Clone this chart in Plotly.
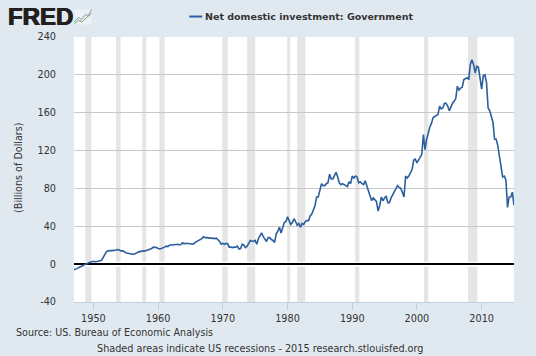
import plotly.graph_objects as go

START_YEAR = 1947
VALUES = [
    -6, -5.5, -4.5, -3.5,  -3, -2, -1, -0.5,  0.5, 1.5, 2, 3,  3, 2.5, 2.5, 3,
    3.5, 4, 7, 10,  13, 14, 14, 14,  14, 14.5, 15, 15.5,  15, 14, 14, 13.5,
    12, 11.5, 11, 11,  10.5, 10.5, 11, 12,  13, 13.5, 14, 14,  14, 14.5, 15, 15.5,
    16.5, 18, 18, 17.5,  16.5, 16, 16.5, 17,  18, 19, 18.5, 20,  20.5, 20.5, 20.5, 21,
    21, 20.5, 20.5, 22.5,  21.5, 22, 22, 22,  21.5, 21, 21.5, 23,  24, 24.5, 25.5, 27,
    29, 28, 28, 27.5,  27.5, 27.5, 27, 27,  27.5, 26, 24, 21,  22, 21, 22, 21.5,
    18, 18, 17.5, 18,  18, 19, 16, 16.5,  21, 20, 17.5, 19,  23, 25, 24.5, 24,
    25, 21, 27, 30,  33, 29, 26, 24,  28, 28, 26, 25,  23, 32, 35, 39,
    33, 38, 44, 45,  50, 46, 42, 44,  48, 45, 41, 43,  39, 43, 42, 45,
    46, 46, 51, 53,  57, 62, 71, 71,  78, 85, 83, 83,  85, 86, 95, 90,
    90, 94, 97, 92,  86, 84, 85, 84,  83, 82, 87, 85,  93, 91, 93, 92,
    86, 87, 85, 84,  88, 83, 77, 73,  67, 70, 68, 66,  56, 62, 71, 67,
    70, 72, 65, 65,  70, 73, 76, 80,  83, 81, 80, 76,  71, 93, 91, 93,
    96, 100, 110, 111,  107, 110, 113, 116,  137, 121, 132, 140,  145, 149, 155, 156,
    157, 158, 167, 164,  165, 170, 170, 167,  162, 167, 170, 172,  175, 188, 184, 186,
    187, 195, 196, 197,  195, 211, 216, 211,  202, 209, 208, 196,  185, 199, 200, 192,
    165, 162, 156, 150,  132, 132, 125, 112,  100, 92, 93, 89,  60, 71, 71, 76,
    62,
]
YEARS = [START_YEAR + i / 4 for i in range(len(VALUES))]
RECESSIONS = [(1948.75, 1949.7), (1953.5, 1954.2), (1957.55, 1958.15), (1960.2, 1961.0),
              (1969.9, 1970.75), (1973.75, 1975.0), (1979.95, 1980.4), (1981.5, 1982.75),
              (1990.45, 1991.1), (2001.1, 2001.75), (2007.9, 2009.35)]
X_TICKS = [1950, 1960, 1970, 1980, 1990, 2000, 2010]
Y_TICKS = [-40, 0, 40, 80, 120, 160, 200, 240]
Y_LABELS = ["-40", "0", "40", "80", "120", "160", "200", "240"]
SERIES_NAME = "Net domestic investment: Government"

W, H = 536, 356
L, R, T, B = 73.5, 514.5, 36.5, 302
BG = "#e1e9f0"
FONT = "DejaVu Sans"
TXT = "#333333"

fig = go.Figure(go.Scatter(x=YEARS, y=VALUES, mode="lines", name=SERIES_NAME,
                           line=dict(color="#2b5f9e", width=1.6), hoverinfo="skip"))
shapes = [dict(type="rect", xref="x", yref="paper", x0=a, x1=b, y0=0, y1=1,
               fillcolor="#e5e5e5", line_width=0, layer="below") for a, b in RECESSIONS]
shapes.append(dict(type="line", xref="paper", yref="y", x0=0, x1=1, y0=0, y1=0,
                   line=dict(color="white", width=5), layer="below"))


def page_shape(kind, x0, y0, x1, y1, **kw):
    return dict(type=kind, xref="paper", yref="paper", x0=(x0 - L) / (R - L), x1=(x1 - L) / (R - L),
                y0=(B - y0) / (B - T), y1=(B - y1) / (B - T), **kw)


def pg(x, y):
    return (x - L) / (R - L), (B - y) / (B - T)


def path(points):
    parts = []
    for i, (x, y) in enumerate(points):
        u, v = pg(x, y)
        parts.append(("M" if i == 0 else "L") + f"{u:.4f},{v:.4f}")
    return " ".join(parts)


shapes.append(page_shape("line", 189, 16, 202, 16, line=dict(color="#2b5f9e", width=2)))
shapes.append(page_shape("rect", 74, 9, 91, 24, fillcolor="#eef1f3", line_width=0))
for pts, c in ([[(74, 21), (78, 17), (81, 19), (85, 14), (88, 15), (91, 9)], "#7f9bb5"],
               [[(74, 23), (78, 20), (82, 21), (86, 17), (91, 13)], "#7fa35a"]):
    shapes.append(dict(type="path", xref="paper", yref="paper", path=path(pts),
                       line=dict(color=c, width=1)))


def note(x, y, text, size=9.6, bold=False, family=FONT, color=TXT, angle=0, xanchor="left", shadow=None):
    f = dict(family=family, size=size, color=color)
    if shadow:
        f["shadow"] = shadow
    return dict(xref="paper", yref="paper", x=pg(x, y)[0], y=pg(x, y)[1], text=f"<b>{text}</b>" if bold else text,
                showarrow=False, xanchor=xanchor, yanchor="middle", textangle=angle,
                font=f, align="left")


annotations = [
    note(203, 16, SERIES_NAME, size=9.5, bold=True),
    note(5, 16, "FRED", size=24, bold=True, family="Liberation Sans", color="#231f20",
         shadow="0.6px 0 0 #231f20, -0.6px 0 0 #231f20"),
    note(13, 333, "Source: US. Bureau of Economic Analysis"),
    note(95, 349, "Shaded areas indicate US recessions - 2015 research.stlouisfed.org", size=9.7),
    note(18, 168, "(Billions of Dollars)", angle=-90, xanchor="center"),
]

fig.update_layout(
    width=W, height=H, autosize=False, paper_bgcolor=BG, plot_bgcolor="white", showlegend=False,
    margin=dict(l=L, r=W - R, t=T, b=H - B),
    font=dict(family=FONT, size=9.7, color=TXT),
    shapes=shapes, annotations=annotations,
    xaxis=dict(range=[1947, 2015], tickmode="array", tickvals=X_TICKS, showgrid=False,
               ticks="outside", ticklen=7, tickcolor="#c0d0e0", showline=True, linecolor="#c0d0e0",
               zeroline=False, tickfont=dict(size=9.7, color=TXT)),
    yaxis=dict(range=[-40, 240], tickmode="array", tickvals=Y_TICKS, ticktext=Y_LABELS,
               gridcolor="#c8c8c8", gridwidth=1,
               zeroline=True, zerolinecolor="black", zerolinewidth=2, ticks="", showline=False,
               ticklabelstandoff=17, tickfont=dict(size=9.7, color=TXT)),
)
fig.write_html("out.html", config={"displayModeBar": False},
               post_script="document.body.style.margin='0';document.body.style.background='#e1e9f0';")
